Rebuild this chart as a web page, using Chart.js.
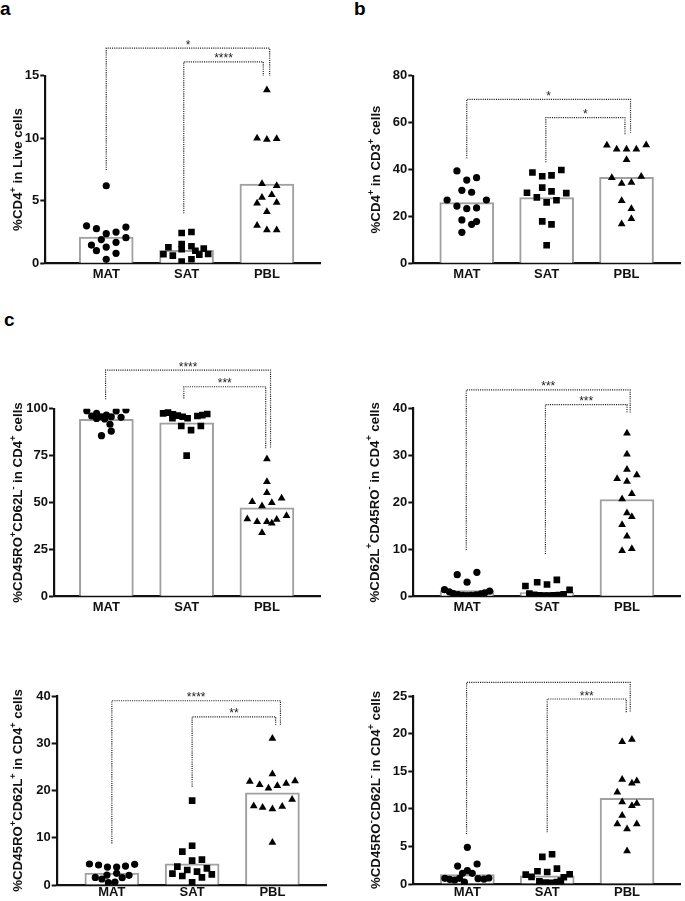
<!DOCTYPE html>
<html>
<head>
<meta charset="utf-8">
<script src="https://cdn.jsdelivr.net/npm/chart.js@4"></script>
<style>
  body { margin: 0; background: #fff; width: 685px; height: 901px; position: relative; overflow: hidden;
         font-family: "Liberation Sans", Arial, sans-serif; }
  canvas { position: absolute; }
  .tag { position: absolute; font-weight: bold; font-size: 19px; line-height: 19px; }
</style>
</head>
<body>
<div class="tag" style="left:0;top:-1px">a</div>
<div class="tag" style="left:354px;top:-1px">b</div>
<div class="tag" style="left:4px;top:310px">c</div>
<canvas id="pa"></canvas>
<canvas id="pb"></canvas>
<canvas id="pc1"></canvas>
<canvas id="pc2"></canvas>
<canvas id="pc3"></canvas>
<canvas id="pc4"></canvas>
<script>
const cats = ['MAT', 'SAT', 'PBL'];

// panel a : %CD4+ in live cells
const aBars = [2.1, 1.04, 6.34];
const aMatY = [6.2, 3.0, 2.77, 2.37, 2.5, 2.9, 2.05, 1.9, 1.68, 1.46, 1.3, 1.01, 0.8, 0.32];
const aMatX = [0, -0.245, -0.122, 0, 0.122, 0.245, 0.245, -0.061, 0.122, -0.184, 0, -0.122, 0.122, 0];
const aSatY = [2.42, 2.5, 1.54, 1.28, 1.36, 1.12, 1.0, 1.17, 0.72, 0.61, 0.69, 0.74, 0.13, 0.32];
const aSatX = [-0.061, 0.061, -0.061, -0.226, 0.061, -0.061, 0.11, 0.214, -0.288, -0.171, 0.159, 0.269, -0.061, 0.061];
const aPblY = [13.85, 10.0, 9.9, 9.95, 6.36, 6.2, 5.27, 5.48, 4.81, 4.87, 4.12, 3.02, 2.67, 2.67];
const aPblX = [0, -0.122, 0, 0.122, -0.061, 0.122, -0.061, 0.061, -0.122, 0.122, 0, -0.122, 0, 0.122];

// panel b : %CD4+ in CD3+ cells
const bBars = [25.9, 28.0, 36.7];
const bMatY = [39.4, 35.5, 36.5, 31.1, 30.3, 27.0, 27.0, 24.4, 23.3, 23.6, 18.5, 16.6, 17.8, 13.2];
const bMatX = [-0.123, 0, 0.123, -0.061, 0.061, -0.246, 0.246, -0.123, 0, 0.123, -0.061, 0.061, 0.123, -0.061];
const bSatY = [38.7, 37.1, 37.5, 39.8, 32.3, 30.1, 30.7, 29.9, 28.1, 26.9, 26.0, 17.9, 16.6, 7.7];
const bSatX = [-0.178, -0.055, 0.061, 0.184, -0.055, -0.246, 0.061, 0.246, -0.123, 0.123, 0, -0.055, 0.061, 0];
const bPblY = [50.3, 48.6, 48.6, 48.6, 50.5, 44.2, 36.5, 37.0, 34.0, 34.5, 26.7, 23.3, 16.8, 19.0];
const bPblX = [-0.246, -0.123, 0, 0.123, 0.246, 0, -0.184, 0.184, -0.061, 0.061, -0.061, 0.061, -0.061, 0.061];

// panel c, top left : CD45RO+CD62L-
const c1Bars = [94.3, 92.5, 47.2];
const c1MatY = [98.9, 96.1, 97.5, 95.7, 96.6, 95.7, 98.8, 95.4, 99.3, 94.8, 94.5, 91.7, 88.0, 85.6];
const c1MatX = [-0.244, -0.183, -0.122, -0.061, 0, 0.061, 0.122, 0.183, 0.244, -0.122, -0.02, 0.045, 0.061, -0.061];
const c1SatY = [97.5, 97.9, 97.0, 96.3, 95.7, 94.9, 96.1, 96.6, 97.2, 94.9, 90.8, 88.6, 90.8, 75.0];
const c1SatX = [-0.293, -0.232, -0.171, -0.11, -0.049, 0.012, 0.134, 0.195, 0.256, -0.177, -0.067, 0.055, 0.177, 0];
const c1PblY = [73.2, 61.1, 55.2, 50.4, 48.1, 49.9, 52.2, 41.2, 39.8, 39.8, 38.9, 41.0, 43.0, 33.9];
const c1PblX = [0, 0, 0, -0.183, -0.061, 0.061, 0.183, -0.244, -0.122, 0, 0.061, 0.122, 0.244, -0.061];

// panel c, top right : CD62L+CD45RO-
const c2Bars = [1.2, 0.8, 20.6];
const c2MatY = [4.6, 5.1, 3.0, 1.4, 0.95, 0.6, 0.35, 0.2, 0.15, 0.2, 0.3, 0.5, 0.75, 1.1];
const c2MatX = [-0.123, 0.123, 0, -0.282, -0.221, -0.172, -0.111, -0.049, 0, 0.049, 0.111, 0.172, 0.221, 0.282];
const c2SatY = [2.2, 3.0, 2.5, 3.5, 1.4, 0.6, 0.3, 0.2, 0.15, 0.15, 0.2, 0.25, 0.4, 0.1];
const c2SatX = [-0.27, -0.123, 0, 0.123, 0.282, -0.221, -0.16, -0.098, -0.037, 0.025, 0.086, 0.147, 0.208, -0.184];
const c2PblY = [34.7, 30.2, 27.0, 25.0, 24.4, 25.8, 21.8, 20.7, 17.7, 16.9, 15.2, 12.8, 9.7, 10.1];
const c2PblX = [0, 0, 0, -0.123, 0, 0.123, 0.061, -0.061, 0, 0.061, -0.061, 0, -0.061, 0.061];

// panel c, bottom left : CD45RO+CD62L+
const c3Bars = [2.5, 4.5, 19.5];
const c3MatY = [4.44, 4.23, 3.8, 3.8, 4.0, 4.37, 2.47, 2.1, 1.6, 1.27, 1.55, 2.05, 0.49, 0.63];
const c3MatX = [-0.279, -0.165, -0.055, 0.06, 0.17, 0.284, 0.06, -0.061, -0.206, -0.124, 0.129, 0.214, -0.043, 0.039];
const c3SatY = [17.85, 8.3, 7.05, 5.15, 5.36, 3.88, 3.17, 2.82, 3.53, 2.4, 1.9, 1.62, 2.26, 0.56];
const c3SatX = [0, 0, -0.122, 0, 0.122, -0.184, -0.061, 0.061, 0.184, -0.245, -0.122, 0.122, 0.245, 0];
const c3PblY = [31.0, 23.5, 21.9, 21.2, 20.5, 21.0, 21.5, 22.0, 18.1, 16.7, 16.4, 16.1, 16.6, 9.0];
const c3PblX = [0, 0, -0.282, -0.159, -0.049, 0.061, 0.171, 0.282, 0.245, -0.233, -0.122, 0, 0.122, 0];

// panel c, bottom right : CD45RO-CD62L-
const c4Bars = [1.24, 1.1, 11.4];
const c4MatY = [4.88, 2.39, 2.66, 1.77, 1.42, 1.42, 0.75, 0.62, 0.53, 0.75, 0.71, 0.66, 0.8, 0.25];
const c4MatX = [0, -0.122, 0.122, 0, -0.061, 0.061, -0.281, -0.22, -0.159, -0.098, 0.134, 0.208, 0.269, -0.037];
const c4SatY = [3.6, 3.95, 2.05, 1.7, 1.6, 1.25, 0.95, 0.9, 1.3, 0.35, 0.2, 0.15, 0.25, 0.45];
const c4SatX = [-0.061, 0.061, 0.122, -0.122, 0, -0.269, -0.196, 0.208, 0.281, -0.098, -0.024, 0.049, 0.122, 0.171];
const c4PblY = [18.9, 19.2, 13.9, 13.4, 13.7, 12.2, 10.9, 10.4, 10.7, 9.1, 7.98, 7.3, 7.98, 4.4];
const c4PblX = [-0.061, 0.061, -0.061, 0.061, 0.122, -0.122, -0.061, 0.061, 0.122, -0.061, -0.122, 0, 0.122, 0];

const FONT = '"Liberation Sans", Arial, sans-serif';
Chart.defaults.font.family = FONT;

function panel(id, o) {
  const cv = document.getElementById(id);
  cv.style.left = o.box[0] + 'px';
  cv.style.top = o.box[1] + 'px';
  cv.width = o.box[2];
  cv.height = o.box[3];

  const shapes = ['circle', 'rect', 'triangle'];
  const radii = [3.6, 4.7, 4.5];
  const points = o.groups.map((g, i) => ({
    type: 'scatter', order: 1,
    data: g[1].map((v, k) => ({x: i + 1 + g[0][k], y: v})),
    pointStyle: shapes[i], pointRadius: radii[i], pointBorderWidth: 0,
    backgroundColor: '#000', borderColor: '#000'
  }));
  // dotted significance brackets
  const lines = o.brackets.map(b => ({
    type: 'line', order: 2,
    data: [{x: b.x0, y: b.y0}, {x: b.x0, y: b.top}, {x: b.x1, y: b.top}, {x: b.x1, y: b.y1}],
    borderColor: '#222', borderWidth: 1.2, borderDash: [1.1, 1.1],
    pointRadius: 0, fill: false, tension: 0, clip: false
  }));

  const yTitle = {
    id: 'yTitle',
    afterDraw(chart) {
      const ctx = chart.ctx, a = chart.chartArea;
      const parts = o.title.split(/(\{.\})/).filter(Boolean);
      const big = 'bold 13.3px ' + FONT, small = 'bold 9px ' + FONT;
      ctx.save();
      ctx.translate(o.titleX, (a.top + a.bottom) / 2);
      ctx.rotate(-Math.PI / 2);
      ctx.fillStyle = '#111';
      ctx.textBaseline = 'middle';
      ctx.textAlign = 'left';
      let w = 0;
      parts.forEach(p => {
        const sup = p[0] === '{';
        ctx.font = sup ? small : big;
        w += ctx.measureText(sup ? p[1] : p).width;
      });
      let x = -w / 2;
      parts.forEach(p => {
        const sup = p[0] === '{';
        const t = sup ? p[1] : p;
        ctx.font = sup ? small : big;
        ctx.fillText(t, x, sup ? -5 : 0);
        x += ctx.measureText(t).width;
      });
      ctx.restore();
    }
  };
  const stars = {
    id: 'stars',
    afterDatasetsDraw(chart) {
      const ctx = chart.ctx, sx = chart.scales.x, sy = chart.scales.y;
      ctx.save();
      ctx.font = '12px ' + FONT;
      ctx.fillStyle = '#222';
      ctx.textAlign = 'center';
      ctx.textBaseline = 'alphabetic';
      o.brackets.forEach(b => {
        const px = (sx.getPixelForValue(b.x0) + sx.getPixelForValue(b.x1)) / 2;
        ctx.fillText(b.label, px, sy.getPixelForValue(b.top) + 0.5);
      });
      ctx.restore();
    }
  };

  new Chart(cv, {
    type: 'bar',
    data: {
      datasets: [{
        type: 'bar', order: 3,
        data: o.bars.map((v, i) => ({x: i + 1, y: v})),
        backgroundColor: '#fff', borderColor: '#a0a0a0', borderWidth: 2, barThickness: 54
      }, ...points, ...lines]
    },
    options: {
      responsive: false,
      animation: false,
      events: [],
      layout: {padding: {top: o.padTop, left: 0, right: 0, bottom: 0}},
      plugins: {legend: {display: false}, tooltip: {enabled: false}},
      scales: {
        x: {
          type: 'linear', min: o.xr[0], max: o.xr[1], offset: false,
          afterBuildTicks: s => { s.ticks = cats.map((c, i) => ({value: i + 1})); },
          afterFit: s => { s.height = o.xh; },
          grid: {display: true, drawOnChartArea: false, drawTicks: false},
          border: {color: '#111', width: 2.2},
          ticks: {callback: v => cats[v - 1], color: '#111', font: {size: 13, weight: 'bold'},
                  padding: o.lp, maxRotation: 0, autoSkip: false}
        },
        y: {
          min: 0, max: o.ymax,
          afterFit: s => { s.width = o.ylw; },
          ticks: {stepSize: o.step, color: '#111', font: {size: 13, weight: 'bold'}, padding: 1},
          grid: {drawOnChartArea: false, tickLength: 5, tickWidth: 2, tickColor: '#111'},
          border: {color: '#111', width: 2.2}
        }
      }
    },
    plugins: [yTitle, stars]
  });
}

panel('pa', {
  box: [0, 30, 325, 255], padTop: 45.7, ylw: 45.3, xh: 21.7, lp: 3, xr: [0.2415, 3.665],
  ymax: 15, step: 5, titleX: 18.3, title: '%CD4{+} in Live cells', bars: aBars,
  groups: [[aMatX, aMatY], [aSatX, aSatY], [aPblX, aPblY]],
  brackets: [
    {x0: 1, x1: 3.035, y0: 7.46, top: 17.2, y1: 15.0, label: '*'},
    {x0: 1.965, x1: 2.955, y0: 4.0, top: 16.1, y1: 15.0, label: '****'}
  ]
});
panel('pb', {
  box: [340, 30, 345, 255], padTop: 45.7, ylw: 73.3, xh: 21.7, lp: 3, xr: [0.331, 3.673],
  ymax: 80, step: 20, titleX: 36.7, title: '%CD4{+} in CD3{+} cells', bars: bBars,
  groups: [[bMatX, bMatY], [bSatX, bSatY], [bPblX, bPblY]],
  brackets: [
    {x0: 1, x1: 3.05, y0: 44.8, top: 69.9, y1: 55.7, label: '*'},
    {x0: 1.99, x1: 2.98, y0: 43.1, top: 62.1, y1: 54.7, label: '*'}
  ]
});
panel('pc1', {
  box: [0, 355, 325, 265], padTop: 53.7, ylw: 54, xh: 23.7, lp: 3, xr: [0.3476, 3.665],
  ymax: 100, step: 25, titleX: 18.3, title: '%CD45RO{+}CD62L{-} in CD4{+} cells', bars: c1Bars,
  groups: [[c1MatX, c1MatY], [c1SatX, c1SatY], [c1PblX, c1PblY]],
  brackets: [
    {x0: 0.99, x1: 3.045, y0: 105, top: 120.6, y1: 78.9, label: '****'},
    {x0: 1.965, x1: 2.985, y0: 105.5, top: 111.7, y1: 78.9, label: '***'}
  ]
});
panel('pc2', {
  box: [340, 355, 345, 265], padTop: 53.3, ylw: 73.3, xh: 23.7, lp: 3, xr: [0.3276, 3.667],
  ymax: 40, step: 10, titleX: 35, title: '%CD62L{+}CD45RO{-} in CD4{+} cells', bars: c2Bars,
  groups: [[c2MatX, c2MatY], [c2SatX, c2SatY], [c2PblX, c2PblY]],
  brackets: [
    {x0: 0.99, x1: 3.04, y0: 9.85, top: 43.9, y1: 39.1, label: '***'},
    {x0: 1.98, x1: 3.0, y0: 9.0, top: 40.8, y1: 39.1, label: '***'}
  ]
});
panel('pc3', {
  box: [0, 680, 331, 221], padTop: 16, ylw: 56.7, xh: 16, lp: 0, xr: [0.3133, 3.671],
  ymax: 40, step: 10, titleX: 18.3, title: '%CD45RO{+}CD62L{+} in CD4{+} cells', bars: c3Bars,
  groups: [[c3MatX, c3MatY], [c3SatX, c3SatY], [c3PblX, c3PblY]],
  brackets: [
    {x0: 1.0, x1: 3.1, y0: 8.8, top: 39.0, y1: 33.9, label: '****'},
    {x0: 2.0, x1: 3.04, y0: 20.8, top: 35.6, y1: 33.9, label: '**'}
  ]
});
panel('pc4', {
  box: [340, 680, 345, 221], padTop: 16, ylw: 73.3, xh: 17, lp: 1, xr: [0.323, 3.667],
  ymax: 25, step: 5, titleX: 36.7, title: '%CD45RO{-}CD62L{-} in CD4{+} cells', bars: c4Bars,
  groups: [[c4MatX, c4MatY], [c4SatX, c4SatY], [c4PblX, c4PblY]],
  brackets: [
    {x0: 0.99, x1: 3.04, y0: 6.65, top: 26.8, y1: 22.8, label: '***'},
    {x0: 2.0, x1: 2.99, y0: 6.87, top: 24.6, y1: 22.8, label: '***'}
  ]
});
</script>
</body>
</html>
